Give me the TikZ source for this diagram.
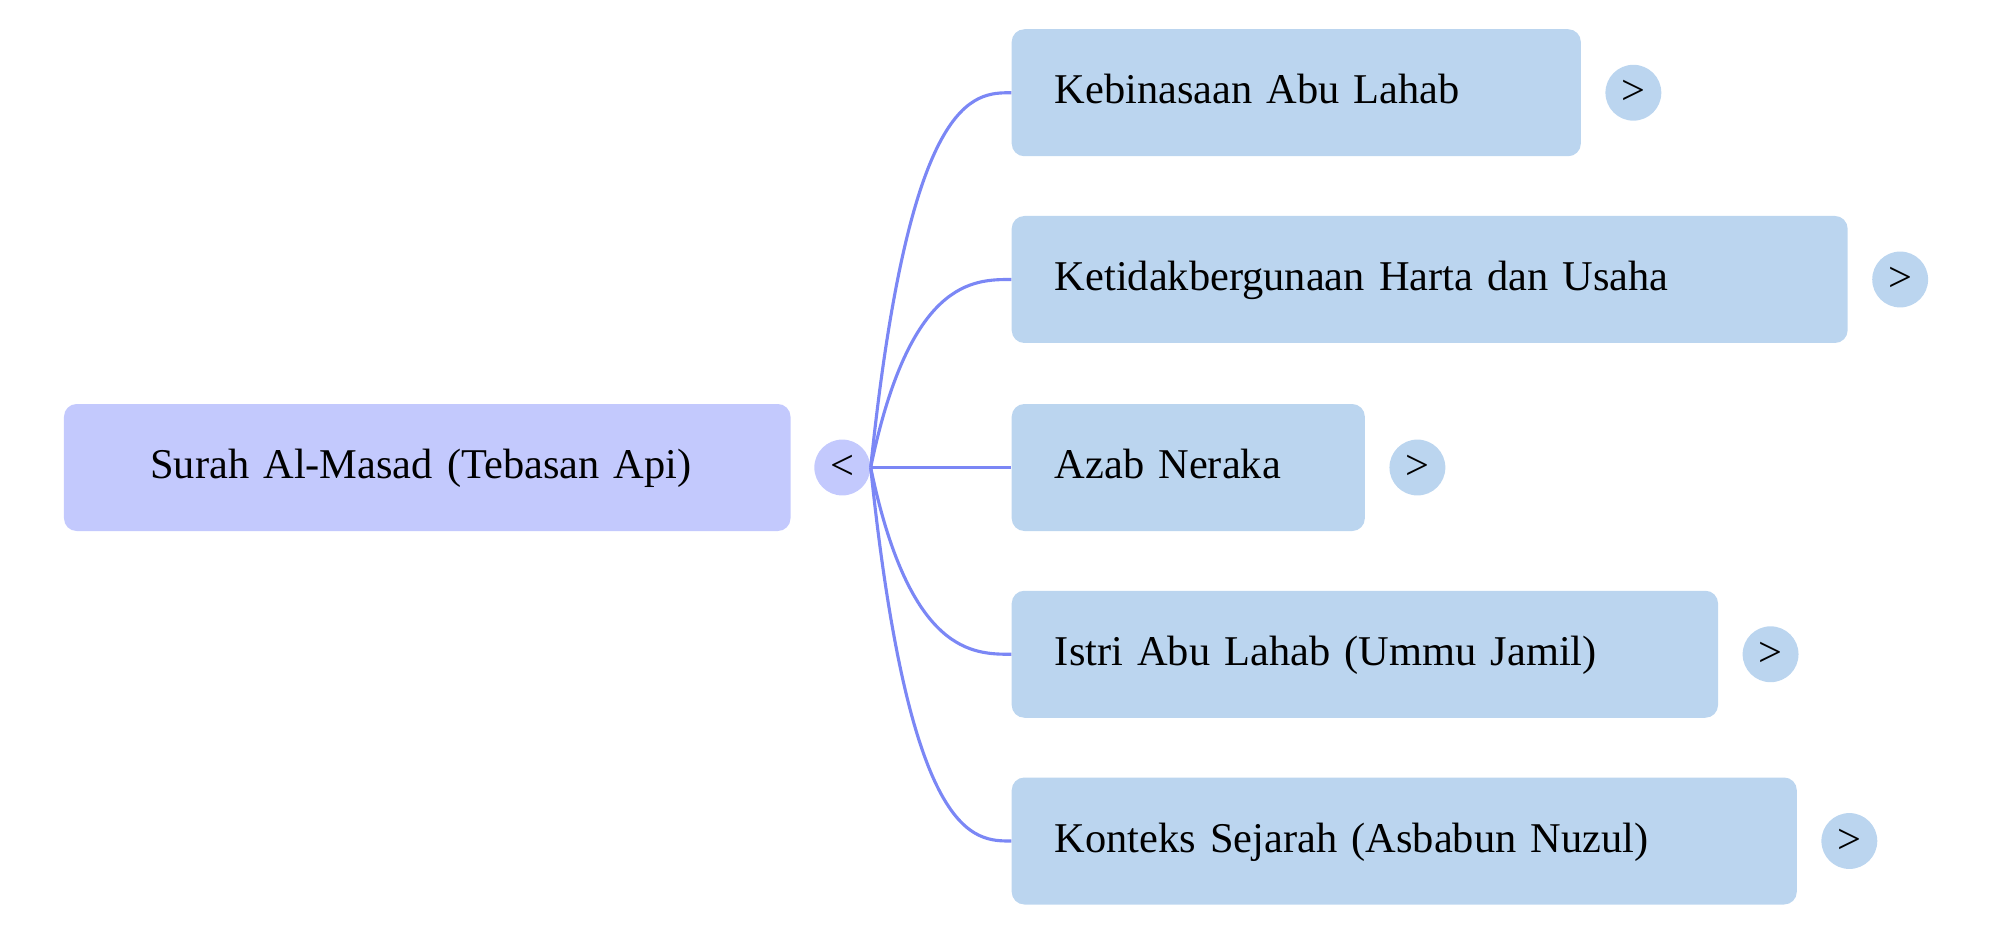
\documentclass[tikz,border=0pt]{standalone}
\usepackage{fontspec}
\setmainfont{Liberation Serif}
\definecolor{rootfill}{HTML}{C3C9FD}
\definecolor{leaffill}{HTML}{BBD5EF}
\definecolor{linkcol}{HTML}{7B87F5}
\tikzset{
  box/.style={fill=#1, rounded corners=0.2cm, minimum height=2cm, anchor=west,
    inner sep=0pt, text height=0.5cm, text depth=0.15cm, font=\fontsize{19}{22}\selectfont},
  knob/.style={circle, fill=leaffill, minimum size=0.88cm, inner sep=0pt,
    font=\fontsize{19}{22}\selectfont},
  link/.style={draw=linkcol, line width=1.4pt}
}
\begin{document}
\begin{tikzpicture}[x=0.02cm, y=-0.02cm]
    \useasboundingbox (0,0) rectangle (1568,736);

    % Root
    \node [box=rootfill, minimum width=11.44cm, text width=11.44cm-1.36cm, align=left, xshift=0cm] (root) at (50,368) {\hspace*{0.68cm}Surah Al-Masad (Tebasan Api)};
    \node [knob, fill=rootfill] (fold) at (663,368) {<};

    % Branches
    \foreach \name/\y/\w/\txt in {kebinasaan/73/448/Kebinasaan Abu Lahab,
                                   harta/220/658/Ketidakbergunaan Harta dan Usaha,
                                   azab/368/278/Azab Neraka,
                                   istri/515/556/Istri Abu Lahab (Ummu Jamil),
                                   sejarah/662/618/Konteks Sejarah (Asbabun Nuzul)} {
        \node [box=leaffill, minimum width=\w*0.02cm, text width=\w*0.02cm, align=left] (\name) at (796,\y) {\hspace*{0.68cm}\txt};
        \node [knob] (\name-k) at ([xshift=0.82cm]\name.east) {>};
        \draw [link] (fold.east) .. controls ([xshift=-1.6cm]\name.west) and ([xshift=-0.6cm]\name.west) .. (\name.west);
    }
\end{tikzpicture}
\end{document}
